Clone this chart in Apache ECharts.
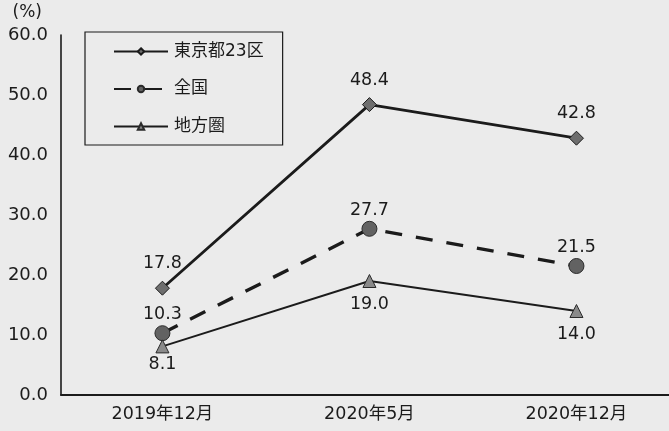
<!DOCTYPE html>
<html>
<head>
<meta charset="utf-8">
<script src="https://cdn.jsdelivr.net/npm/echarts@6/dist/echarts.min.js"></script>
<style>
html,body{margin:0;padding:0;background:#ebebeb;}
#c{width:669px;height:431px;}
</style>
</head>
<body>
<div id="c"></div>
<script>
const categories = ['2019年12月', '2020年5月', '2020年12月'];
const tokyo23 = [17.8, 48.4, 42.8];
const national = [10.3, 27.7, 21.5];
const regional = [8.1, 19.0, 14.0];
const seriesNames = ['東京都23区', '全国', '地方圏'];
const yTicks = [0, 10, 20, 30, 40, 50, 60];

const FONT = '"DejaVu Sans", "Noto Sans CJK JP", sans-serif';
const ink = '#1b1b1b';
const chart = echarts.init(document.getElementById('c'), null, {renderer: 'canvas'});
const lbl = (pos, dist) => ({
  show: true, position: pos, distance: dist, color: ink, fontSize: 17.5, fontFamily: FONT,
  formatter: p => p.value[1].toFixed(1)
});
const toPts = arr => arr.map((v, i) => [i, v]);
const regionalPts = toPts(regional).map((p, i) => i === 0 ? {value: p, label: {distance: 2}} : {value: p});

chart.setOption({
  backgroundColor: '#ebebeb',
  animation: false,
  textStyle: {fontFamily: FONT},
  grid: {left: 61, right: 0, top: 35, bottom: 36, containLabel: false},
  legend: {
    orient: 'vertical', left: 85, top: 32,
    data: seriesNames,
    borderColor: ink, borderWidth: 1.2,
    padding: [11, 19, 10, 28],
    itemWidth: 54, itemHeight: 8, itemGap: 20.5,
    textStyle: {color: ink, fontSize: 17, fontFamily: FONT, padding: [0, 0, 0, 1]}
  },
  xAxis: {
    type: 'value', min: -0.49, max: 2.447,
    axisLine: {onZero: false, lineStyle: {color: ink, width: 2}},
    axisTick: {show: false},
    splitLine: {show: false},
    axisLabel: {
      color: ink, fontSize: 17.5, margin: 11, fontFamily: FONT,
      customValues: [0, 1, 2],
      formatter: v => categories[Math.round(v)]
    }
  },
  yAxis: {
    type: 'value', min: yTicks[0], max: yTicks[yTicks.length - 1], interval: 10,
    name: '(%)', nameLocation: 'end', nameGap: 14,
    nameTextStyle: {color: ink, fontSize: 17, align: 'right', padding: [0, 19, 0, 0], fontFamily: FONT},
    axisLine: {show: true, onZero: false, lineStyle: {color: ink, width: 1.6}},
    axisTick: {show: false},
    splitLine: {show: false},
    axisLabel: {color: ink, fontSize: 18, margin: 13, formatter: v => v.toFixed(1), fontFamily: FONT}
  },
  series: [
    {
      name: seriesNames[0], type: 'line', data: toPts(tokyo23),
      symbol: 'diamond', symbolSize: 14,
      lineStyle: {color: ink, width: 2.8},
      itemStyle: {color: '#6e6e6e', borderColor: ink, borderWidth: 1},
      label: lbl('top', 8), z: 3
    },
    {
      name: seriesNames[1], type: 'line', data: toPts(national),
      symbol: 'circle', symbolSize: 15,
      lineStyle: {color: ink, width: 3.4, type: [17, 14]},
      itemStyle: {color: '#626262', borderColor: '#2a2a2a', borderWidth: 1},
      label: lbl('top', 2), z: 2
    },
    {
      name: seriesNames[2], type: 'line', data: regionalPts,
      symbol: 'triangle', symbolSize: 13,
      lineStyle: {color: ink, width: 2},
      itemStyle: {color: '#8a8a8a', borderColor: '#2a2a2a', borderWidth: 1},
      label: lbl('bottom', 8), z: 2
    }
  ]
});
</script>
</body>
</html>
